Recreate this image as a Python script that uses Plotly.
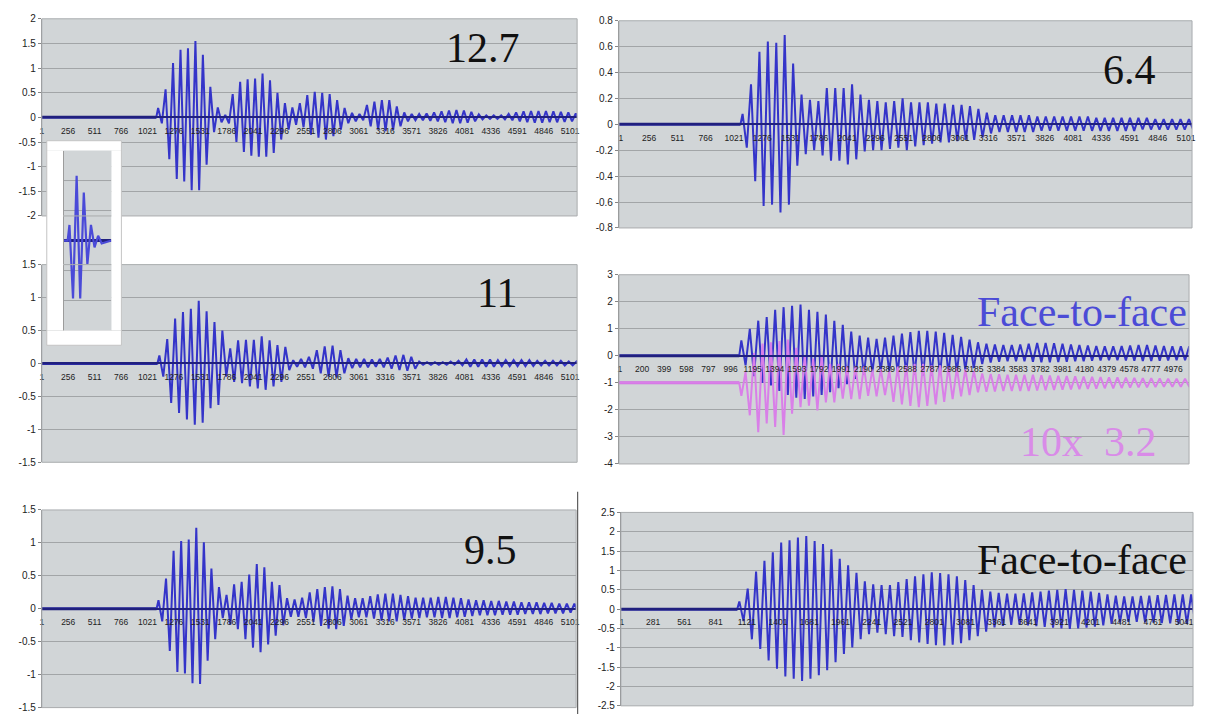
import plotly.graph_objects as go

FIG_W, FIG_H = 1205, 720

# ---------------------------------------------------------------------------
# Sample-number labels printed along the zero line of each trace
# ---------------------------------------------------------------------------
TICKS_255 = [1, 256, 511, 766, 1021, 1276, 1531, 1786, 2041, 2296, 2551,
             2806, 3061, 3316, 3571, 3826, 4081, 4336, 4591, 4846, 5101]
TICKS_199 = [1, 200, 399, 598, 797, 996, 1195, 1394, 1593, 1792, 1991, 2190,
             2389, 2588, 2787, 2986, 3185, 3384, 3583, 3782, 3981, 4180,
             4379, 4578, 4777, 4976]
TICKS_280 = [1, 281, 561, 841, 1121, 1401, 1681, 1961, 2241, 2521, 2801,
             3081, 3361, 3641, 3921, 4201, 4481, 4761, 5041]

# Amplitude ticks of each panel
Y_TICKS_2 = [-2, -1.5, -1, -0.5, 0, 0.5, 1, 1.5, 2]
Y_TICKS_15 = [-1.5, -1, -0.5, 0, 0.5, 1, 1.5]
Y_TICKS_08 = [-0.8, -0.6, -0.4, -0.2, 0, 0.2, 0.4, 0.6, 0.8]
Y_TICKS_43 = [-4, -3, -2, -1, 0, 1, 2, 3]
Y_TICKS_25 = [-2.5, -2, -1.5, -1, -0.5, 0, 0.5, 1, 1.5, 2, 2.5]

# ---------------------------------------------------------------------------
# Recordings: burst onset (sample), oscillation period (samples), resting
# level, then the successive crest / trough values after the onset.
# ---------------------------------------------------------------------------
ONSET_12_7, PERIOD_12_7, REST_12_7 = 1106, 72, 0.0
PEAKS_12_7 = [
    0.19, -0.12, 0.57, -0.85, 1.10, -1.25, 1.37, -1.30, 1.40, -1.48,
    1.55, -1.48, 1.27, -0.96, 0.62, -0.30, 0.20, -0.10,
    0.05, -0.12,
    0.47, -0.50, 0.72, -0.70, 0.77, -0.78, 0.79, -0.80, 0.89, -0.80,
    0.75, -0.72, 0.50, -0.45, 0.29, -0.25, 0.20, -0.15,
    0.29, -0.20, 0.45, -0.35, 0.52, -0.41, 0.50, -0.45, 0.47, -0.38,
    0.35, -0.25, 0.19, -0.12, 0.09, -0.08,
    0.07, -0.06,
    0.25, -0.18, 0.32, -0.25, 0.35, -0.28, 0.35, -0.26, 0.22, -0.18, 0.10, -0.08,
    0.07, -0.06, 0.07, -0.06, 0.08, -0.07, 0.10, -0.08,
    0.12, -0.10, 0.14, -0.12, 0.15, -0.12, 0.14, -0.11, 0.11, -0.08,
    0.06, -0.04, 0.04, -0.03, 0.04, -0.03, 0.04, -0.04, 0.07, -0.06,
    0.10, -0.08, 0.12, -0.10, 0.13, -0.11, 0.13, -0.11, 0.13, -0.10,
    0.12, -0.10, 0.11, -0.09, 0.10, -0.08, 0.08, -0.06,
]

ONSET_11, PERIOD_11, REST_11 = 1117, 76, 0.0
PEAKS_11 = [
    0.12, -0.20, 0.37, -0.60, 0.68, -0.75, 0.78, -0.85, 0.83, -0.93,
    0.95, -0.90, 0.79, -0.68, 0.63, -0.63, 0.50, -0.20,
    0.23, -0.28, 0.35, -0.30, 0.36, -0.35, 0.36, -0.38, 0.41, -0.40,
    0.35, -0.35, 0.28, -0.28, 0.25, -0.10, 0.05, -0.05,
    0.07, -0.06, 0.10, -0.08, 0.20, -0.15, 0.26, -0.20, 0.27, -0.21,
    0.20, -0.15, 0.08, -0.07,
    0.07, -0.06, 0.07, -0.06, 0.06, -0.05, 0.07, -0.06,
    0.09, -0.08, 0.12, -0.10, 0.13, -0.11, 0.10, -0.08,
    0.03, -0.02, 0.02, -0.02, 0.02, -0.02, 0.02, -0.02, 0.03, -0.02,
    0.04, -0.03, 0.06, -0.05, 0.06, -0.05, 0.06, -0.05, 0.06, -0.05,
    0.05, -0.04, 0.05, -0.04,
    0.05, -0.04, 0.05, -0.04, 0.05, -0.04, 0.04, -0.03, 0.04, -0.03,
    0.04, -0.03, 0.04, -0.03, 0.03, -0.03, 0.03, -0.02,
]

ONSET_9_5, PERIOD_9_5, REST_9_5 = 1109, 73, 0.0
PEAKS_9_5 = [
    0.13, -0.19, 0.46, -0.64, 0.88, -0.96, 1.03, -0.98, 1.05, -1.13,
    1.23, -1.14, 1.01, -0.79, 0.61, -0.46, 0.33, -0.14,
    0.21, -0.24, 0.37, -0.31, 0.41, -0.46, 0.52, -0.59, 0.68, -0.66,
    0.63, -0.54, 0.41, -0.41, 0.36, -0.25, 0.16, -0.12,
    0.14, -0.12, 0.17, -0.14, 0.25, -0.20, 0.30, -0.26, 0.33, -0.30,
    0.34, -0.31, 0.30, -0.26, 0.20, -0.16, 0.16, -0.13, 0.16, -0.13,
    0.19, -0.15, 0.22, -0.18, 0.23, -0.19, 0.23, -0.19, 0.21, -0.17,
    0.19, -0.15, 0.17, -0.14, 0.17, -0.13, 0.17, -0.13, 0.18, -0.14,
    0.18, -0.14, 0.17, -0.13, 0.16, -0.12, 0.14, -0.11, 0.13, -0.10,
    0.13, -0.10, 0.12, -0.10, 0.12, -0.09, 0.11, -0.09, 0.11, -0.09,
    0.10, -0.08, 0.10, -0.08, 0.10, -0.08, 0.09, -0.07, 0.09, -0.07,
    0.08, -0.07, 0.08, -0.06, 0.08, -0.06,
]

ONSET_6_4, PERIOD_6_4, REST_6_4 = 1080, 76, 0.0
PEAKS_6_4 = [
    0.08, -0.18, 0.31, -0.44, 0.56, -0.63, 0.64, -0.62, 0.63, -0.68,
    0.69, -0.62, 0.47, -0.32, 0.23, -0.23, 0.19, -0.20,
    0.18, -0.24, 0.28, -0.28, 0.28, -0.28, 0.28, -0.31, 0.31, -0.27,
    0.23, -0.21, 0.19, -0.20, 0.18, -0.20, 0.17, -0.19, 0.18, -0.18,
    0.20, -0.20, 0.17, -0.17, 0.17, -0.16, 0.17, -0.15, 0.16, -0.14,
    0.16, -0.14, 0.15, -0.13, 0.15, -0.12, 0.14, -0.12, 0.12, -0.10,
    0.09, -0.07, 0.07, -0.06,
    0.07, -0.06, 0.07, -0.06, 0.07, -0.06, 0.07, -0.06, 0.06, -0.05,
    0.06, -0.05, 0.06, -0.05, 0.06, -0.05, 0.06, -0.05, 0.06, -0.05,
    0.06, -0.05, 0.05, -0.05, 0.05, -0.05, 0.05, -0.05, 0.05, -0.05,
    0.05, -0.05, 0.05, -0.04, 0.05, -0.04, 0.04, -0.04, 0.04, -0.04,
    0.04, -0.04, 0.04, -0.04, 0.04, -0.04,
]

ONSET_F2F, PERIOD_F2F, REST_F2F = 1074, 76, 0.0
PEAKS_F2F = [
    0.57, -0.35, 1.00, -0.75, 1.30, -1.00, 1.43, -1.10, 1.70, -1.30,
    1.80, -1.45, 1.85, -1.55, 1.90, -1.60, 1.70, -1.50, 1.63, -1.45,
    1.53, -1.35, 1.30, -1.20, 1.15, -1.05, 0.90, -0.85, 0.75, -0.70,
    0.67, -0.60, 0.63, -0.55, 0.67, -0.58, 0.75, -0.62,
    0.82, -0.65, 0.88, -0.70, 0.92, -0.72, 0.92, -0.72, 0.90, -0.70,
    0.85, -0.66, 0.78, -0.60, 0.70, -0.52, 0.60, -0.45,
    0.50, -0.30, 0.45, -0.25, 0.42, -0.22, 0.40, -0.20, 0.40, -0.20,
    0.42, -0.20, 0.45, -0.22, 0.48, -0.24, 0.48, -0.24, 0.47, -0.23,
    0.45, -0.22, 0.42, -0.20, 0.40, -0.20, 0.38, -0.18, 0.36, -0.17,
    0.35, -0.16, 0.35, -0.16, 0.36, -0.17, 0.38, -0.18, 0.40, -0.19,
    0.40, -0.19, 0.38, -0.18, 0.36, -0.17, 0.35, -0.16, 0.35, -0.16,
    0.35, -0.16,
]

ONSET_10X, PERIOD_10X, REST_10X = 1074, 76, -1.0
PEAKS_10X = [
    -1.48, -0.60, -2.20, 0.10, -2.83, 0.45, -2.50, 0.50, -2.63, 0.55,
    -2.93, 0.60, -2.14, 0.30, -1.90, 0.00, -1.84, -0.10, -2.02, 0.00,
    -1.72, -0.30, -1.72, -0.30, -1.58, -0.40, -1.60, -0.40, -1.60, -0.40,
    -1.48, -0.50, -1.50, -0.50, -1.45, -0.55,
    -1.70, -0.40, -1.80, -0.35, -1.85, -0.30, -1.90, -0.30, -1.85, -0.35,
    -1.80, -0.35, -1.70, -0.40, -1.60, -0.45, -1.50, -0.50, -1.45, -0.55,
    -1.35, -0.65, -1.33, -0.67, -1.32, -0.68, -1.30, -0.70, -1.30, -0.70,
    -1.30, -0.70, -1.30, -0.70, -1.28, -0.72, -1.27, -0.73, -1.26, -0.74,
    -1.25, -0.75, -1.24, -0.76, -1.23, -0.77, -1.22, -0.78, -1.21, -0.79,
    -1.20, -0.80, -1.20, -0.80, -1.19, -0.81, -1.18, -0.82, -1.17, -0.83,
    -1.17, -0.83, -1.16, -0.84, -1.15, -0.85, -1.15, -0.85, -1.15, -0.85,
    -1.15, -0.85,
]

ONSET_F2F_B, PERIOD_F2F_B, REST_F2F_B = 1035, 75, 0.0
PEAKS_F2F_B = [
    0.20, -0.31, 0.53, -0.78, 0.97, -1.03, 1.25, -1.33, 1.47, -1.54,
    1.72, -1.74, 1.78, -1.80, 1.85, -1.86, 1.89, -1.80, 1.76, -1.71,
    1.68, -1.58, 1.55, -1.37, 1.30, -1.16, 1.13, -0.99, 0.94, -0.78,
    0.72, -0.65, 0.64, -0.61, 0.62, -0.65, 0.62, -0.70,
    0.70, -0.72, 0.78, -0.80, 0.85, -0.86, 0.90, -0.90, 0.95, -0.93,
    0.93, -0.94, 0.90, -0.92, 0.85, -0.88, 0.75, -0.80, 0.62, -0.70,
    0.50, -0.58, 0.45, -0.47,
    0.42, -0.43, 0.40, -0.41, 0.40, -0.41, 0.41, -0.42, 0.43, -0.44,
    0.45, -0.46, 0.48, -0.48, 0.50, -0.50, 0.52, -0.51, 0.50, -0.50,
    0.48, -0.48, 0.45, -0.45, 0.42, -0.42, 0.38, -0.38,
    0.35, -0.35, 0.33, -0.33, 0.33, -0.33, 0.34, -0.34, 0.35, -0.35,
    0.36, -0.36, 0.37, -0.37, 0.38, -0.38, 0.38, -0.38, 0.38, -0.38,
    0.38, -0.38,
]

# Small inset trace (arbitrary units)
ONSET_INSET, PERIOD_INSET, REST_INSET = 4.0, 7.2, 0.0
PEAKS_INSET = [0.52, -1.93, 2.16, -1.93, 1.60, -0.80, 0.52, -0.23, 0.16, -0.10]

# ---------------------------------------------------------------------------
# Styling
# ---------------------------------------------------------------------------
PLOT_BG = "#d1d5d7"
GRID = "#a2a5a7"
AXIS = "#858585"
BLUE = "#3434c9"
BLUE_DARK = "#20207e"
MAGENTA = "#d97fe8"
MAGENTA_DARK = "#cf6fe0"
TICK_FONT = dict(family="Liberation Sans, Arial, sans-serif", color="#222222")
SERIF = "Liberation Serif, Times New Roman, serif"


def px_x(px):
    return px / FIG_W


def px_y(px):
    return 1 - px / FIG_H


def fmt(v):
    return "%g" % v


def wave_xy(onset, period, rest, peaks, x_start):
    xs = [x_start, onset]
    ys = [rest, rest]
    for k, v in enumerate(peaks):
        xs.append(onset + period / 4.0 + k * period / 2.0)
        ys.append(v)
    return xs, ys


# panel boxes in pixels: (left, top, right, bottom)
PANELS = [
    dict(box=(40, 13, 578, 213.5), xr=(1, 5169), yr=(-2, 2), yt=Y_TICKS_2, xt=TICKS_255),
    dict(box=(40, 263, 578, 464), xr=(1, 5169), yr=(-1.5, 1.5), yt=Y_TICKS_15, xt=TICKS_255),
    dict(box=(40, 512.5, 577, 713.5), xr=(1, 5159), yr=(-1.5, 1.5), yt=Y_TICKS_15, xt=TICKS_255),
    dict(box=(620, 15, 1196, 225.7), xr=(-17, 5155), yr=(-0.8, 0.8), yt=Y_TICKS_08, xt=TICKS_255),
    dict(box=(620, 273.3, 1193, 465.7), xr=(-8, 5119), yr=(-4, 3), yt=Y_TICKS_43, xt=TICKS_199),
    dict(box=(622, 515, 1197, 711.7), xr=(-8, 5121), yr=(-2.5, 2.5), yt=Y_TICKS_25, xt=TICKS_280),
]

SERIES = [
    (1, ONSET_12_7, PERIOD_12_7, REST_12_7, PEAKS_12_7, BLUE, BLUE_DARK),
    (2, ONSET_11, PERIOD_11, REST_11, PEAKS_11, BLUE, BLUE_DARK),
    (3, ONSET_9_5, PERIOD_9_5, REST_9_5, PEAKS_9_5, BLUE, BLUE_DARK),
    (4, ONSET_6_4, PERIOD_6_4, REST_6_4, PEAKS_6_4, BLUE, BLUE_DARK),
    (5, ONSET_F2F, PERIOD_F2F, REST_F2F, PEAKS_F2F, BLUE, BLUE_DARK),
    (5, ONSET_10X, PERIOD_10X, REST_10X, PEAKS_10X, MAGENTA, MAGENTA_DARK),
    (6, ONSET_F2F_B, PERIOD_F2F_B, REST_F2F_B, PEAKS_F2F_B, BLUE, BLUE_DARK),
]


def ax_ids(i):
    return ("x", "y") if i == 1 else ("x%d" % i, "y%d" % i)


fig = go.Figure()
layout = {}
shapes = []

for i, p in enumerate(PANELS, start=1):
    l, t, r, b = p["box"]
    ymin, ymax = p["yr"]
    zero_px = t + (ymax - 0) / (ymax - ymin) * (b - t)
    xk = "xaxis" if i == 1 else "xaxis%d" % i
    yk = "yaxis" if i == 1 else "yaxis%d" % i
    xid, yid = ax_ids(i)
    layout[xk] = dict(
        domain=[px_x(l), px_x(r)], range=list(p["xr"]),
        anchor="free", position=px_y(zero_px),
        showline=True, linecolor=BLUE_DARK, linewidth=2,
        showgrid=False, zeroline=False,
        tickmode="array", tickvals=p["xt"], ticktext=[str(v) for v in p["xt"]],
        ticks="", tickangle=0, ticklabelstandoff=5,
        tickfont=dict(size=8.5, **TICK_FONT),
        fixedrange=True,
    )
    layout[yk] = dict(
        domain=[px_y(b), px_y(t)], range=[ymin, ymax], anchor=xid,
        showline=True, linecolor=AXIS, linewidth=1,
        ticks="outside", ticklen=3, tickcolor=AXIS,
        showgrid=True, gridcolor=GRID, gridwidth=1, zeroline=False,
        tickmode="array", tickvals=p["yt"], ticktext=[fmt(v) for v in p["yt"]],
        tickfont=dict(size=10, **TICK_FONT),
        fixedrange=True,
    )
    shapes.append(dict(type="rect", xref="paper", yref="paper",
                       x0=px_x(l), x1=px_x(r), y0=px_y(b), y1=px_y(t),
                       line=dict(color="#a9acae", width=1), layer="above"))

for panel, onset, period, rest, peaks, col, dark in SERIES:
    xid, yid = ax_ids(panel)
    x0 = PANELS[panel - 1]["xr"][0]
    xs, ys = wave_xy(onset, period, rest, peaks, x0)
    fig.add_trace(go.Scatter(x=[x0, onset], y=[rest, rest], xaxis=xid, yaxis=yid,
                             mode="lines", line=dict(color=dark, width=3),
                             hoverinfo="skip", showlegend=False))
    fig.add_trace(go.Scatter(x=xs, y=ys, xaxis=xid, yaxis=yid, mode="lines",
                             line=dict(color=col, width=2),
                             hoverinfo="skip", showlegend=False))

# ---- inset ----
IN_L, IN_T, IN_R, IN_B = 62, 147, 110, 330
IN_XR, IN_YR = (0, 48), (-3, 3)
IN_GRID = [-2, -1, 1, 2]
layout["xaxis7"] = dict(domain=[px_x(IN_L), px_x(IN_R)], range=list(IN_XR), anchor="y7",
                        showline=False, showgrid=False, zeroline=False,
                        showticklabels=False, ticks="", fixedrange=True)
layout["yaxis7"] = dict(domain=[px_y(IN_B), px_y(IN_T)], range=list(IN_YR), anchor="x7",
                        showline=True, linecolor=AXIS, linewidth=1,
                        showgrid=False, zeroline=False, showticklabels=False,
                        ticks="", fixedrange=True)
fig.add_trace(go.Scatter(x=[IN_XR[0], IN_XR[1], IN_XR[1], IN_XR[0], IN_XR[0]],
                         y=[IN_YR[0], IN_YR[0], IN_YR[1], IN_YR[1], IN_YR[0]],
                         xaxis="x7", yaxis="y7", mode="lines", fill="toself",
                         fillcolor=PLOT_BG, line=dict(width=0),
                         hoverinfo="skip", showlegend=False))
gx, gy = [], []
for g in IN_GRID:
    gx += [IN_XR[0], IN_XR[1], None]
    gy += [g, g, None]
fig.add_trace(go.Scatter(x=gx, y=gy, xaxis="x7", yaxis="y7", mode="lines",
                         line=dict(color=GRID, width=1),
                         hoverinfo="skip", showlegend=False))
xs, ys = wave_xy(ONSET_INSET, PERIOD_INSET, REST_INSET, PEAKS_INSET, IN_XR[0])
xs.append(IN_XR[1])
ys.append(REST_INSET)
fig.add_trace(go.Scatter(x=[IN_XR[0], IN_XR[1]], y=[REST_INSET, REST_INSET],
                         xaxis="x7", yaxis="y7", mode="lines",
                         line=dict(color=BLUE_DARK, width=3),
                         hoverinfo="skip", showlegend=False))
fig.add_trace(go.Scatter(x=xs, y=ys, xaxis="x7", yaxis="y7", mode="lines",
                         line=dict(color="#4a4ad8", width=2.2),
                         hoverinfo="skip", showlegend=False))

# white frame around the inset
BOX_L, BOX_T, BOX_R, BOX_B = 45, 137, 120, 345
for (a, c, d, e) in [(BOX_L, BOX_T, BOX_R, IN_T), (BOX_L, IN_B, BOX_R, BOX_B),
                     (BOX_L, IN_T, IN_L - 0.5, IN_B), (IN_R, IN_T, BOX_R, IN_B)]:
    shapes.append(dict(type="rect", xref="paper", yref="paper",
                       x0=px_x(a), x1=px_x(d), y0=px_y(e), y1=px_y(c),
                       fillcolor="white", line=dict(width=0), layer="above"))
shapes.append(dict(type="rect", xref="paper", yref="paper",
                   x0=px_x(BOX_L), x1=px_x(BOX_R), y0=px_y(BOX_B), y1=px_y(BOX_T),
                   line=dict(color="#c4c4c4", width=1), layer="above"))
# frame edge at the right of the lower-left chart
shapes.append(dict(type="line", xref="paper", yref="paper",
                   x0=px_x(578.5), x1=px_x(578.5), y0=px_y(720), y1=px_y(494),
                   line=dict(color="#5e5e5e", width=1.2), layer="above"))

# ---- panel captions ----
CAPTIONS = [
    ("12.7", 483, 43, "#111111"),
    ("11", 497, 292, "#111111"),
    ("9.5", 491, 553, "#111111"),
    ("6.4", 1133, 65, "#111111"),
    ("Face-to-face", 1085, 311, "#4b4bd6"),
    ("10x\u00a0\u00a03.2", 1092, 443, "#d98be8"),
    ("Face-to-face", 1085, 563, "#111111"),
]
annotations = []
for text, cx, cy, col in CAPTIONS:
    annotations.append(dict(text=text, xref="paper", yref="paper",
                            x=px_x(cx), y=px_y(cy), xanchor="center", yanchor="middle",
                            showarrow=False, font=dict(family=SERIF, size=42, color=col)))

fig.update_layout(
    width=FIG_W, height=FIG_H, autosize=False,
    margin=dict(l=0, r=0, t=0, b=0),
    paper_bgcolor="white", plot_bgcolor=PLOT_BG,
    showlegend=False, hovermode=False,
    shapes=shapes, annotations=annotations,
    **layout,
)

fig.write_html("out.html", config={"displayModeBar": False})
